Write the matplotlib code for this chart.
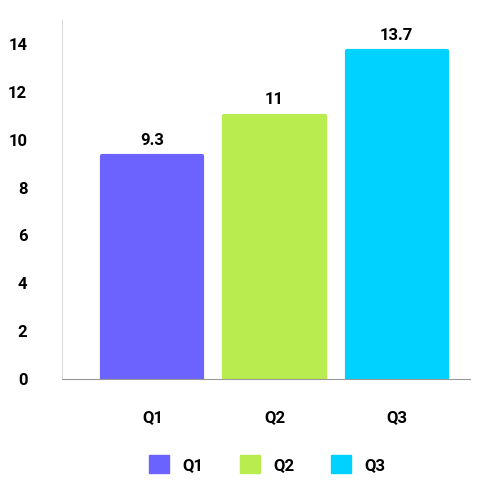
import matplotlib
matplotlib.use("Agg")
import matplotlib.pyplot as plt
from matplotlib.patches import Patch

categories = ["Q1", "Q2", "Q3"]
values = [9.3, 11, 13.7]
labels = ["9.3", "11", "13.7"]
colors = ["#6c63ff", "#b8ec4f", "#00d2ff"]

plt.rcParams['font.family'] = ['Roboto', 'DejaVu Sans']
fig = plt.figure(figsize=(5, 5), dpi=100)
ax = fig.add_axes([0.124, 0.242, 0.816, 0.718])
x = range(len(categories))
bars = ax.bar(x, values, width=0.82, color=colors, edgecolor=colors, linewidth=3, joinstyle='round')
for xi, v, l in zip(x, values, labels):
    ax.text(xi, v + 0.35, l, ha='center', va='bottom', fontsize=12, fontweight='bold')
ax.set_xlim(-0.74, 2.6)
ax.set_ylim(0, 15)
ax.set_yticks(range(0, 15, 2))
ax.set_xticks(list(x))
ax.set_xticklabels(categories)
ax.tick_params(length=0, labelsize=12, pad=10)
for t in ax.get_xticklabels() + ax.get_yticklabels():
    t.set_fontweight('bold')
ax.tick_params(axis='x', pad=22)
ax.tick_params(axis='y', pad=25)
for s in ['top', 'right']:
    ax.spines[s].set_visible(False)
ax.spines['left'].set_color('#dddddd')
ax.spines['bottom'].set_color('#999999')
handles = [Patch(color=c, label=k) for c, k in zip(colors, categories)]
leg = fig.legend(handles=handles, loc='center', bbox_to_anchor=(0.535, 0.072), ncol=3,
                 frameon=False, fontsize=12, handlelength=1.2, handleheight=1.2, columnspacing=2.2)
for t in leg.get_texts():
    t.set_fontweight('bold')
fig.savefig("out.png")
